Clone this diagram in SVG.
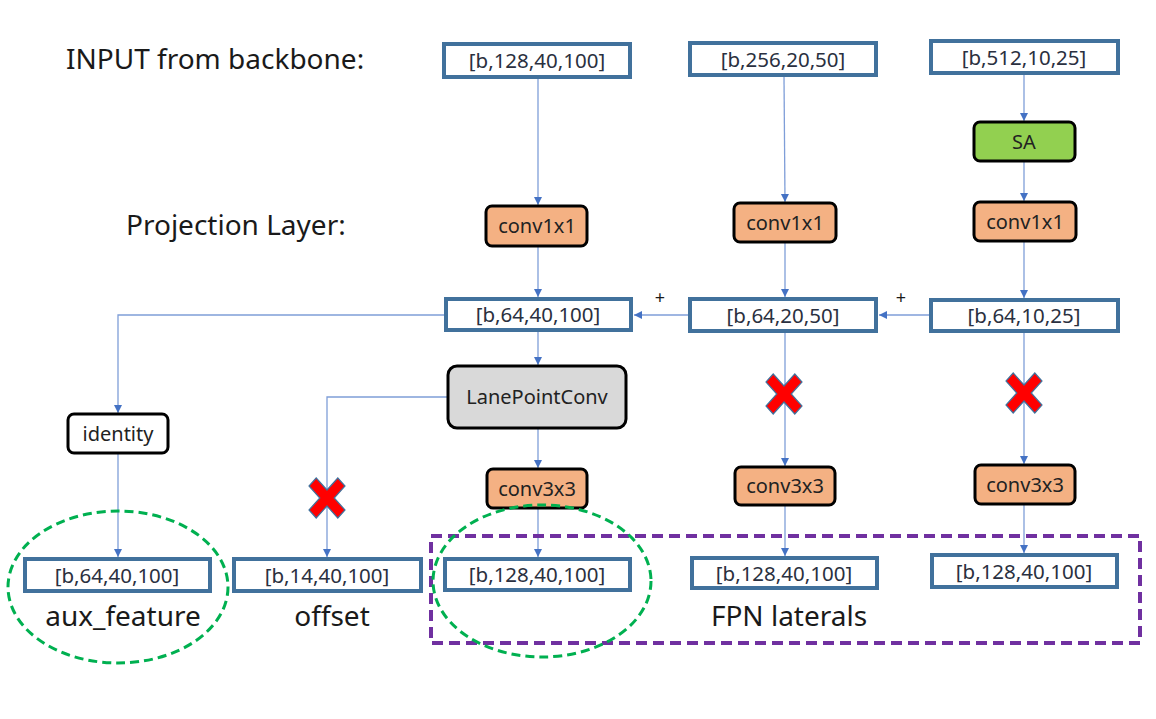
<svg xmlns="http://www.w3.org/2000/svg" width="1156" height="719" viewBox="0 0 1156 719">
<style>
  .t { font-family: "Noto Sans", "Open Sans", "Liberation Sans", sans-serif; fill: #1a1a1a; }
  .lbl { font-size: 28px; }
  .bx { fill: #ffffff; stroke: #41719C; stroke-width: 4; }
  .bt { font-size: 20.5px; fill: #2a3040; text-anchor: middle; }
  .op { stroke: #000; stroke-width: 3; }
  .conv { fill: #F4B183; }
  .sa { fill: #92D050; }
  .gray { fill: #D9D9D9; }
  .white { fill: #ffffff; }
  .ot { font-size: 20px; fill: #222222; text-anchor: middle; }
  .ln { fill: none; stroke: #7F9ED8; stroke-width: 1.3; marker-end: url(#ah); }
  .x { fill: #FF0000; stroke: #41719C; stroke-width: 1.2; }
</style>
<defs>
  <marker id="ah" markerWidth="10" markerHeight="10" refX="8" refY="4" orient="auto" markerUnits="userSpaceOnUse">
    <path d="M0,0 L8,4 L0,8 Z" fill="#4472C4"/>
  </marker>
  <path id="xm" d="M-10.8,-20 L0,-8 L10.8,-20 L18,-12 L7.2,0 L18,12 L10.8,20 L0,8 L-10.8,20 L-18,12 L-7.2,0 L-18,-12 Z"/>
</defs>
<rect width="1156" height="719" fill="#ffffff"/>

<text class="t lbl" x="66" y="69">INPUT from backbone:</text>
<text class="t lbl" x="126" y="235">Projection Layer:</text>

<g id="connectors">
  <path class="ln" d="M538,79 L538,205"/>
  <path class="ln" d="M538,247 L538,297"/>
  <path class="ln" d="M784,77 L785,202"/>
  <path class="ln" d="M785,243 L785,297"/>
  <path class="ln" d="M1024,75 L1024,121"/>
  <path class="ln" d="M1024,162 L1024,201"/>
  <path class="ln" d="M1024,242 L1024,298"/>
  <path class="ln" d="M929,315 L879,315"/>
  <path class="ln" d="M688,315 L634,315"/>
  <path class="ln" d="M444,315 L118,315 L118,413"/>
  <path class="ln" d="M118,454 L118,557"/>
  <path class="ln" d="M538,331 L538,365"/>
  <path class="ln" d="M447,397 L327,397 L327,557"/>
  <path class="ln" d="M538,429 L538,468"/>
  <path class="ln" d="M538,509 L538,557"/>
  <path class="ln" d="M785,333 L785,466"/>
  <path class="ln" d="M785,506 L785,556"/>
  <path class="ln" d="M1024,333 L1024,464"/>
  <path class="ln" d="M1024,505 L1024,553"/>
  <text class="t" x="660" y="304" font-size="18" text-anchor="middle">+</text>
  <text class="t" x="901" y="304" font-size="18" text-anchor="middle">+</text>
</g>

<g id="in1"><rect class="bx" x="444" y="44" width="186" height="33"/><text class="t bt" x="537" y="68">[b,128,40,100]</text></g>
<g id="in2"><rect class="bx" x="690" y="43" width="186" height="32"/><text class="t bt" x="783" y="67">[b,256,20,50]</text></g>
<g id="in3"><rect class="bx" x="931" y="41" width="187" height="32"/><text class="t bt" x="1024" y="65">[b,512,10,25]</text></g>

<g id="sa"><rect class="op sa" x="974" y="122" width="101" height="39" rx="6"/><text class="t ot" x="1024" y="149">SA</text></g>

<g id="c1a"><rect class="op conv" x="486" y="206" width="101" height="40" rx="6"/><text class="t ot" x="537" y="233">conv1x1</text></g>
<g id="c1b"><rect class="op conv" x="734" y="203" width="102" height="39" rx="6"/><text class="t ot" x="785" y="230">conv1x1</text></g>
<g id="c1c"><rect class="op conv" x="974" y="202" width="102" height="39" rx="6"/><text class="t ot" x="1025" y="229">conv1x1</text></g>

<g id="p1"><rect class="bx" x="446" y="299" width="185" height="31"/><text class="t bt" x="538" y="322">[b,64,40,100]</text></g>
<g id="p2"><rect class="bx" x="690" y="299" width="186" height="32"/><text class="t bt" x="783" y="323">[b,64,20,50]</text></g>
<g id="p3"><rect class="bx" x="931" y="300" width="187" height="31"/><text class="t bt" x="1024" y="323">[b,64,10,25]</text></g>

<g id="identity"><rect class="op white" x="68" y="414" width="100" height="39" rx="6"/><text class="t ot" x="118" y="441">identity</text></g>
<g id="lpc"><rect class="op gray" x="448" y="366" width="178" height="62" rx="9"/><text class="t ot" x="537" y="404">LanePointConv</text></g>

<g id="c3a"><rect class="op conv" x="487" y="469" width="100" height="39" rx="6"/><text class="t ot" x="537" y="496">conv3x3</text></g>
<g id="c3b"><rect class="op conv" x="735" y="467" width="100" height="38" rx="6"/><text class="t ot" x="785" y="493">conv3x3</text></g>
<g id="c3c"><rect class="op conv" x="975" y="465" width="100" height="39" rx="6"/><text class="t ot" x="1025" y="492">conv3x3</text></g>

<g id="x1"><use href="#xm" class="x" transform="translate(327,498)"/></g>
<g id="x2"><use href="#xm" class="x" transform="translate(784,394)"/></g>
<g id="x3"><use href="#xm" class="x" transform="translate(1024,393)"/></g>

<g id="o1"><rect class="bx" x="25" y="559" width="185" height="32"/><text class="t bt" x="117" y="583">[b,64,40,100]</text></g>
<g id="o2"><rect class="bx" x="234" y="559" width="187" height="32"/><text class="t bt" x="327" y="583">[b,14,40,100]</text></g>
<g id="o3"><rect class="bx" x="445" y="559" width="185" height="31"/><text class="t bt" x="537" y="582">[b,128,40,100]</text></g>
<g id="o4"><rect class="bx" x="692" y="558" width="185" height="30"/><text class="t bt" x="784" y="581">[b,128,40,100]</text></g>
<g id="o5"><rect class="bx" x="932" y="555" width="185" height="32"/><text class="t bt" x="1024" y="579">[b,128,40,100]</text></g>

<text class="t lbl" x="123" y="626" text-anchor="middle">aux_feature</text>
<text class="t lbl" x="332" y="626" text-anchor="middle">offset</text>
<text class="t lbl" x="789" y="626" text-anchor="middle">FPN laterals</text>

<g id="groups" fill="none">
  <rect x="431" y="536" width="709" height="107" stroke="#7030A0" stroke-width="4" stroke-dasharray="11,6"/>
  <ellipse cx="118" cy="587" rx="110" ry="76" stroke="#00B050" stroke-width="3" stroke-dasharray="9,5"/>
  <ellipse cx="542" cy="581" rx="109" ry="76" stroke="#00B050" stroke-width="3" stroke-dasharray="9,5"/>
</g>
</svg>
